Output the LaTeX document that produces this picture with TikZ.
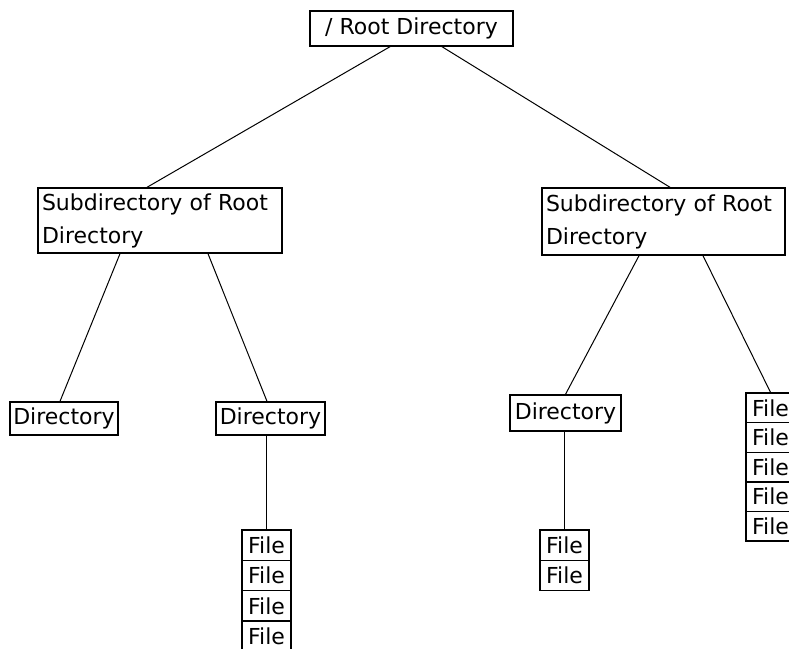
\documentclass[tikz,border=0pt]{standalone}
\usepackage{fontspec}
\setmainfont{DejaVu Sans}
\begin{document}
\begin{tikzpicture}[x=1pt,y=-1pt,
  box/.style={draw, line width=1.4pt, inner sep=0pt, font=\fontsize{22}{33}\selectfont},
  subbox/.style={box, inner xsep=4pt, align=left},
  dirbox/.style={box, minimum height=33pt},
  filebox/.style={box, minimum width=49pt, minimum height=30.3pt},
  link/.style={line width=1pt}]
\useasboundingbox (0,0) rectangle (789,648);
\clip (0,0) rectangle (789,648);
% nodes
\node[box, minimum width=203pt, minimum height=35pt] (root) at (411.5,28.5) {/ Root Directory};
\node[subbox, text width=236pt, minimum height=65pt] (sub1) at (160,220.5) {Subdirectory of Root\\Directory};
\node[subbox, text width=235pt, minimum height=67pt] (sub2) at (663.5,221.5) {Subdirectory of Root\\Directory};
\node[dirbox, minimum width=108pt] (dirL) at (64,418.5) {Directory};
\node[dirbox, minimum width=109pt] (dirM) at (270.5,418.5) {Directory};
\node[dirbox, minimum width=111pt, minimum height=36pt] (dirR) at (565.5,413) {Directory};
% file stack under middle-left directory
\node[filebox] (fL1) at (266.5,545.2) {File};
\node[filebox] (fL2) at (266.5,575.5) {File};
\node[filebox] (fL3) at (266.5,605.8) {File};
\node[filebox] (fL4) at (266.5,636.1) {File};
% file stack under right directory
\node[filebox] (fM1) at (564.5,545.2) {File};
\node[filebox] (fM2) at (564.5,575.5) {File};
% file stack at right edge
\node[filebox, minimum height=29.6pt] (fR1) at (770.5,407.8) {File};
\node[filebox, minimum height=29.6pt] (fR2) at (770.5,437.4) {File};
\node[filebox, minimum height=29.6pt] (fR3) at (770.5,467.0) {File};
\node[filebox, minimum height=29.6pt] (fR4) at (770.5,496.6) {File};
\node[filebox, minimum height=29.6pt] (fR5) at (770.5,526.2) {File};
% connectors
\draw[link] ([xshift=-21.5pt]root.south) -- ([xshift=-13pt]sub1.north);
\draw[link] ([xshift=30.5pt]root.south) -- ([xshift=6.5pt]sub2.north);
\draw[link] ([xshift=-40pt]sub1.south) -- ([xshift=-4pt]dirL.north);
\draw[link] ([xshift=48pt]sub1.south) -- ([xshift=-3.5pt]dirM.north);
\draw[link] ([xshift=-24.5pt]sub2.south) -- (dirR.north);
\draw[link] ([xshift=39.5pt]sub2.south) -- (fR1.north);
\draw[link] (dirM.south -| fL1.north) -- (fL1.north);
\draw[link] (dirR.south -| fM1.north) -- (fM1.north);
\end{tikzpicture}
\end{document}
